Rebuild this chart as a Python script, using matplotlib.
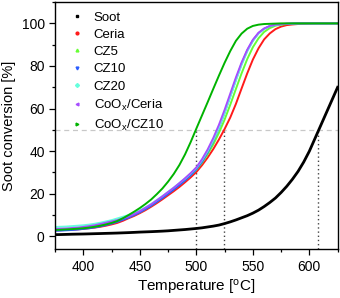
import matplotlib
matplotlib.use("Agg")
import matplotlib.pyplot as plt
from matplotlib.ticker import MultipleLocator

plt.rcParams['font.family'] = ['Liberation Sans', 'DejaVu Sans']
plt.rcParams['mathtext.fontset'] = 'custom'
plt.rcParams['mathtext.rm'] = 'Liberation Sans'
plt.rcParams['mathtext.it'] = 'Liberation Sans:italic'

# temperatures [C], every 5 degrees
temps = [375, 380, 385, 390, 395, 400, 405, 410, 415, 420, 425, 430, 435, 440, 445,
         450, 455, 460, 465, 470, 475, 480, 485, 490, 495, 500, 505, 510, 515, 520,
         525, 530, 535, 540, 545, 550, 555, 560, 565, 570, 575, 580, 585, 590, 595,
         600, 605, 610, 615, 620, 625]

# soot conversion [%]
soot = [0.8, 0.85, 0.92, 1.0, 1.05, 1.1, 1.17, 1.25, 1.32, 1.4, 1.47, 1.55, 1.65, 1.75, 1.87,
        2.0, 2.1, 2.2, 2.32, 2.45, 2.6, 2.8, 3.0, 3.2, 3.45, 3.7, 4.0, 4.4, 4.8, 5.3,
        6.0, 6.8, 7.7, 8.7, 9.7, 10.9, 12.3, 14.0, 15.9, 18.0, 20.6, 23.5, 26.8, 30.5, 34.9,
        40.0, 46.0, 52.0, 58.0, 64.0, 70.0]
ceria = [2.8, 2.9, 3.0, 3.1, 3.3, 3.5, 3.8, 4.1, 4.5, 5.0, 5.6, 6.3, 7.3, 8.5, 9.6,
         10.9, 12.3, 13.9, 15.6, 17.4, 19.3, 21.2, 23.2, 25.4, 27.7, 30.2, 33.4, 37.0, 41.0, 45.5,
         50.4, 55.8, 62.2, 69.4, 76.5, 83.0, 88.3, 92.5, 95.3, 97.3, 98.5, 99.2, 99.5, 99.7, 99.8,
         99.9, 100, 100, 100, 100, 100]
cz5 = [3.2, 3.3, 3.45, 3.6, 3.85, 4.1, 4.4, 4.8, 5.3, 5.9, 6.6, 7.4, 8.2, 9.0, 10.2,
       11.4, 12.9, 14.5, 16.3, 18.2, 20.2, 22.2, 24.3, 26.5, 28.8, 31.3, 34.6, 38.6, 43.2, 48.6,
       54.8, 61.8, 69.2, 76.5, 83.2, 88.8, 93.0, 96.0, 97.8, 98.9, 99.4, 99.7, 99.85, 99.9, 100,
       100, 100, 100, 100, 100, 100]
cz10 = [2.6, 2.7, 2.85, 3.0, 3.2, 3.5, 3.8, 4.2, 4.7, 5.3, 6.0, 6.8, 7.8, 8.8, 10.0,
        11.3, 12.8, 14.4, 16.2, 18.0, 20.0, 22.0, 24.1, 26.3, 28.7, 31.5, 35.0, 39.5, 44.8, 51.0,
        58.0, 65.8, 73.6, 81.0, 87.2, 92.0, 95.4, 97.5, 98.7, 99.3, 99.6, 99.8, 99.9, 100, 100,
        100, 100, 100, 100, 100, 100]
cz20 = [4.4, 4.5, 4.6, 4.8, 5.0, 5.2, 5.5, 5.9, 6.4, 7.0, 7.6, 8.4, 9.2, 10.0, 11.1,
        12.2, 13.6, 15.2, 17.0, 18.9, 20.9, 22.9, 25.0, 27.1, 29.5, 32.1, 35.7, 40.1, 45.2, 51.2,
        58.0, 65.5, 73.2, 80.5, 86.8, 91.7, 95.2, 97.4, 98.7, 99.3, 99.6, 99.8, 99.9, 100, 100,
        100, 100, 100, 100, 100, 100]
coox_ceria = [3.5, 3.6, 3.7, 3.9, 4.1, 4.4, 4.8, 5.2, 5.8, 6.4, 7.0, 7.6, 8.4, 9.3, 10.5,
              11.8, 13.4, 15.0, 16.9, 18.8, 20.8, 22.8, 25.0, 27.3, 29.7, 32.4, 36.2, 40.8, 46.2, 52.4,
              59.4, 67.0, 74.6, 81.6, 87.6, 92.3, 95.6, 97.6, 98.8, 99.4, 99.7, 99.85, 99.9, 100, 100,
              100, 100, 100, 100, 100, 100]
coox_cz10 = [3.0, 3.1, 3.25, 3.4, 3.6, 3.8, 4.1, 4.5, 5.0, 5.6, 6.3, 7.2, 8.5, 10.0, 11.6,
             13.3, 15.2, 17.3, 19.8, 22.5, 25.7, 29.3, 33.5, 38.5, 44.3, 50.6, 56.8, 63.0, 69.3, 75.5,
             81.5, 87.0, 91.8, 95.2, 97.5, 98.8, 99.4, 99.7, 99.8, 99.9, 100, 100, 100, 100, 100,
             100, 100, 100, 100, 100, 100]

labels = ['Soot', 'Ceria', 'CZ5', 'CZ10', 'CZ20',
          'CoO$_\\mathregular{x}$/Ceria', 'CoO$_\\mathregular{x}$/CZ10']
colors = ['#000000', '#ff1a1a', '#66ff33', '#2a5cff', '#66ffdd', '#a64dff', '#00b300']
markers = ['s', 'o', '^', 'v', 'D', '<', '>']
series = [soot, ceria, cz5, cz10, cz20, coox_ceria, coox_cz10]

# T50 values marked with dotted lines
t50 = [499.5, 524.5, 608]

fig = plt.figure(figsize=(3.4, 2.98), dpi=100)
ax = fig.add_axes([0.162, 0.164, 0.831, 0.829])

ax.axhline(50, color='#c8c8c8', lw=0.9, ls=(0, (4, 3)), zorder=1)
ax.vlines(t50, -6, 50, colors='#444444', lw=1.0, linestyles=(0, (1, 2)), zorder=1)

for vals, lab, c, m in zip(series, labels, colors, markers):
    lw = 2.0 if lab == 'Soot' else 1.4
    ax.plot(temps, vals, color=c, lw=lw, zorder=2)
    ax.plot([], [], ls='none', marker=m, ms=2.0, color=c, label=lab)

ax.set_xlim(375, 625)
ax.set_ylim(-6, 110)
ax.xaxis.set_major_locator(MultipleLocator(50))
ax.xaxis.set_minor_locator(MultipleLocator(25))
ax.yaxis.set_major_locator(MultipleLocator(20))
ax.yaxis.set_minor_locator(MultipleLocator(10))
ax.tick_params(which='major', length=4, width=0.9, labelsize=10)
ax.tick_params(which='minor', length=2.5, width=0.9)
for s in ax.spines.values():
    s.set_linewidth(1.0)

ax.set_xlabel('Temperature [$^\\mathregular{o}$C]', fontsize=11, labelpad=3)
ax.set_ylabel('Soot conversion [%]', fontsize=10.5, labelpad=4)

ax.legend(loc='upper left', bbox_to_anchor=(0.02, 1.0), frameon=False, fontsize=9.5,
          handlelength=1.0, handletextpad=0.8, labelspacing=0.38, borderaxespad=0.3)

fig.savefig('out.png', dpi=100)
